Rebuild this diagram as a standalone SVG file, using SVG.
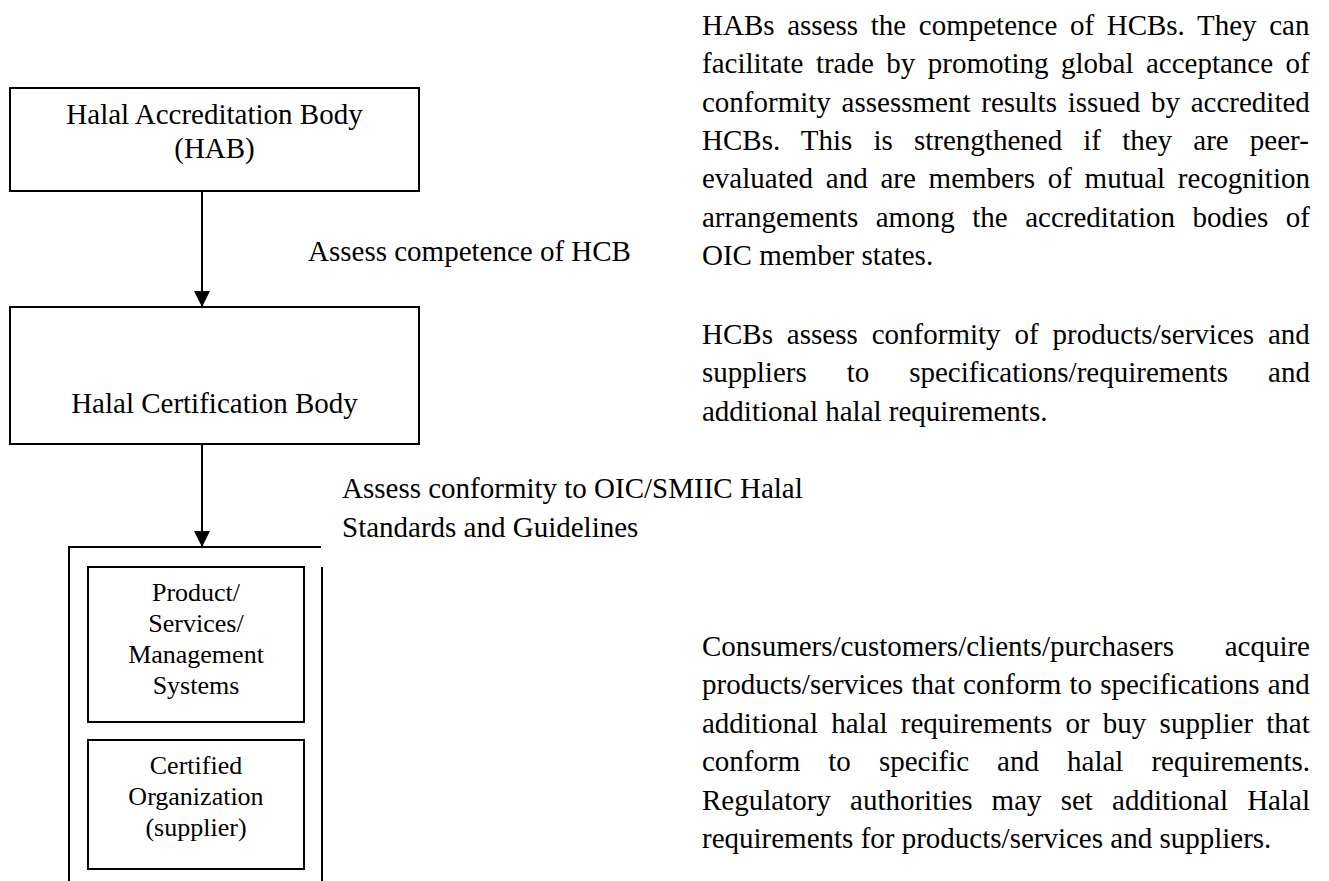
<svg xmlns="http://www.w3.org/2000/svg" width="1329" height="881" viewBox="0 0 1329 881">
<style>
  .t { font-family: "Liberation Serif", "Times New Roman", serif; font-size: 29px; fill: #000; }
  .s { font-family: "Liberation Serif", "Times New Roman", serif; font-size: 26px; fill: #000; }
  .c { text-anchor: middle; }
  .box { fill: #fff; stroke: #000; stroke-width: 2; }
  .ln { fill: none; stroke: #000; stroke-width: 2; }
</style>
<defs>
  <marker id="arr" markerWidth="16" markerHeight="16" refX="15" refY="8" orient="auto" markerUnits="userSpaceOnUse">
    <path d="M0,0 L16,8 L0,16 Z" fill="#000"/>
  </marker>
</defs>
<rect width="1329" height="881" fill="#fff"/>

<g id="connectors">
  <line class="ln" x1="202" y1="191" x2="202" y2="306" marker-end="url(#arr)"/>
  <line class="ln" x1="202" y1="444" x2="202" y2="546" marker-end="url(#arr)"/>
  <text class="t" x="308" y="261">Assess competence of HCB</text>
  <text class="t" x="342" y="498">Assess conformity to OIC/SMIIC Halal</text>
  <text class="t" x="342" y="537">Standards and Guidelines</text>
</g>

<g id="hab">
  <rect class="box" x="10" y="88" width="409" height="103"/>
  <text class="t c" x="214.5" y="124">Halal Accreditation Body</text>
  <text class="t c" x="214.5" y="158">(HAB)</text>
</g>

<g id="hcb">
  <rect class="box" x="10" y="307" width="409" height="137"/>
  <text class="t c" x="214.5" y="413">Halal Certification Body</text>
</g>

<g id="certified-group">
  <path class="ln" d="M69,881 L69,547 L321,547"/>
  <line class="ln" x1="322" y1="567" x2="322" y2="881"/>
</g>

<g id="products">
  <rect class="box" x="88" y="567" width="216" height="155"/>
  <text class="s c" x="196" y="601">Product/</text>
  <text class="s c" x="196" y="632">Services/</text>
  <text class="s c" x="196" y="663">Management</text>
  <text class="s c" x="196" y="694">Systems</text>
</g>

<g id="organization">
  <rect class="box" x="88" y="740" width="216" height="129"/>
  <text class="s c" x="196" y="774">Certified</text>
  <text class="s c" x="196" y="805">Organization</text>
  <text class="s c" x="196" y="836">(supplier)</text>
</g>

<g id="para-hab">
  <text class="t" x="702" y="35" word-spacing="5.4">HABs assess the competence of HCBs. They can</text>
  <text class="t" x="702" y="73.3" word-spacing="5.2">facilitate trade by promoting global acceptance of</text>
  <text class="t" x="702" y="111.6" word-spacing="3.5">conformity assessment results issued by accredited</text>
  <text class="t" x="702" y="150" word-spacing="13.9">HCBs. This is strengthened if they are peer-</text>
  <text class="t" x="702" y="188.3" word-spacing="5.5">evaluated and are members of mutual recognition</text>
  <text class="t" x="702" y="226.6" word-spacing="10.3">arrangements among the accreditation bodies of</text>
  <text class="t" x="702" y="265">OIC member states.</text>
</g>

<g id="para-hcb">
  <text class="t" x="702" y="344" word-spacing="6.7">HCBs assess conformity of products/services and</text>
  <text class="t" x="702" y="382.3" word-spacing="32.7">suppliers to specifications/requirements and</text>
  <text class="t" x="702" y="420.6">additional halal requirements.</text>
</g>

<g id="para-consumers">
  <text class="t" x="702" y="655.5">Consumers/customers/clients/purchasers</text>
  <text class="t" x="1310" y="655.5" text-anchor="end">acquire</text>
  <text class="t" x="702" y="694" word-spacing="0.9">products/services that conform to specifications and</text>
  <text class="t" x="702" y="732.5" word-spacing="6.0">additional halal requirements or buy supplier that</text>
  <text class="t" x="702" y="771" word-spacing="20.8">conform to specific and halal requirements.</text>
  <text class="t" x="702" y="809.5" word-spacing="11.9">Regulatory authorities may set additional Halal</text>
  <text class="t" x="702" y="848">requirements for products/services and suppliers.</text>
</g>
</svg>
